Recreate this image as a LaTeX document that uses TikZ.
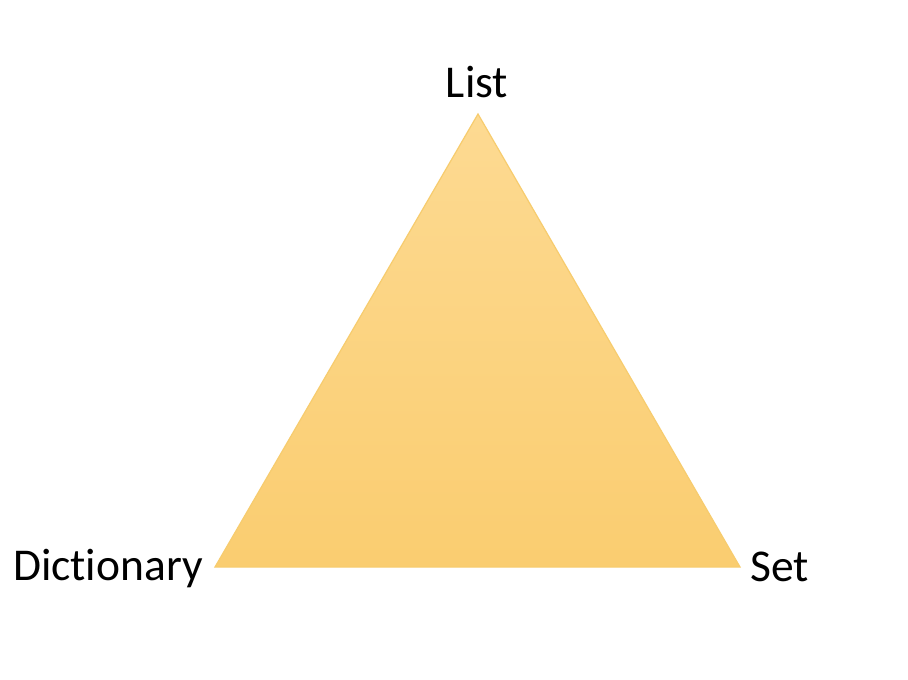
\documentclass[tikz,border=0pt]{standalone}
\usepackage{fontspec}
\setmainfont{Carlito}[Ligatures=NoCommon]
\begin{document}
\begin{tikzpicture}[x=1pt,y=-1pt,
  lbl/.style={inner sep=0pt,font=\fontsize{45.5}{54}\selectfont}]
\useasboundingbox[fill=white] (0,0) rectangle (908,680);
\coordinate (top) at (478,114);
\coordinate (bl) at (215,567);
\coordinate (br) at (740,567);
\shade[top color={rgb,255:red,253;green,218;blue,146},bottom color={rgb,255:red,250;green,205;blue,112}]
  (top) -- (bl) -- (br) -- cycle;
\draw[line width=1.2pt,color={rgb,255:red,247;green,204;blue,110},line join=miter] (top) -- (bl) -- (br) -- cycle;
\node[lbl,anchor=base] (list) at (477,97) {List};
\node[lbl,anchor=base east] (dict) at (203,580) {Dictionary};
\node[lbl,anchor=base west] (set) at (750,581) {Set};
\end{tikzpicture}
\end{document}
